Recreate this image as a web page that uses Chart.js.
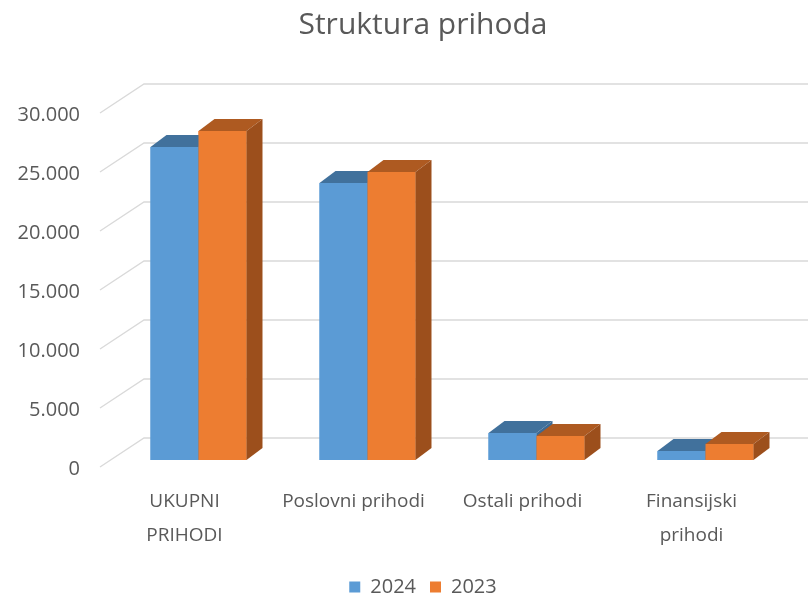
<!DOCTYPE html>
<html>
<head>
<meta charset="utf-8">
<script src="https://cdn.jsdelivr.net/npm/chart.js@4/dist/chart.umd.min.js"></script>
<style>
    html, body { margin: 0; padding: 0; background: #ffffff; }
    #wrap { width: 808px; height: 601px; }
</style>
</head>
<body>
<div id="wrap"><canvas id="myChart"></canvas></div>
<script>
const categories = [['UKUPNI', 'PRIHODI'], 'Poslovni prihodi', 'Ostali prihodi', ['Finansijski', 'prihodi']];
const seriesNames = ['2024', '2023'];
const values2024 = [26530, 23470, 2290, 760];
const values2023 = [27880, 24400, 2030, 1360];
const yTicks = [0, 5000, 10000, 15000, 20000, 25000, 30000];

const textColor = '#595959';
const fontFamily = '"Open Sans", "Noto Sans", sans-serif';

// front / top / side colours of the 3D bars
const frontColors = ['#5b9bd5', '#ed7d31'];
const topColors = ['#41719c', '#ae5a21'];
const sideColors = ['#3c6a94', '#9c4f1c'];
const depthX = 16;
const depthY = -12;

const formatNumber = v => v.toString().replace(/\B(?=(\d{3})+(?!\d))/g, '.');

const fillPoly = (ctx, pts, color) => {
    ctx.beginPath();
    ctx.moveTo(pts[0][0], pts[0][1]);
    for (let k = 1; k < pts.length; k++) ctx.lineTo(pts[k][0], pts[k][1]);
    ctx.closePath();
    ctx.fillStyle = color;
    ctx.fill();
};

// back wall grid lines, drawn with a little perspective
const wallGrid = {
    id: 'wallGrid',
    beforeDatasetsDraw(chart) {
        const ctx = chart.ctx;
        const yScale = chart.scales.y;
        const left = chart.chartArea.left;
        ctx.save();
        ctx.strokeStyle = '#d9d9d9';
        ctx.lineWidth = 1.3;
        yTicks.forEach(v => {
            const y = yScale.getPixelForValue(v);
            ctx.beginPath();
            ctx.moveTo(left - 14, y + 7);
            ctx.lineTo(left + 30, y - 22);
            ctx.lineTo(chart.width, y - 22);
            ctx.stroke();
        });
        ctx.restore();
    }
};

// top and side faces of the bars (fronts redrawn so the overlap is right)
const bar3d = {
    id: 'bar3d',
    afterDatasetsDraw(chart) {
        const ctx = chart.ctx;
        const metas = [chart.getDatasetMeta(0), chart.getDatasetMeta(1)];
        ctx.save();
        for (let i = 0; i < categories.length; i++) {
            metas.forEach((meta, d) => {
                const bar = meta.data[i];
                const p = bar.getProps(['x', 'y', 'base', 'width'], true);
                const l = p.x - p.width / 2;
                const r = p.x + p.width / 2;
                fillPoly(ctx, [[l, p.y], [r, p.y], [r, p.base], [l, p.base]], frontColors[d]);
                fillPoly(ctx, [[l, p.y], [r, p.y], [r + depthX, p.y + depthY], [l + depthX, p.y + depthY]], topColors[d]);
                fillPoly(ctx, [[r, p.y], [r + depthX, p.y + depthY], [r + depthX, p.base + depthY], [r, p.base]], sideColors[d]);
            });
        }
        ctx.restore();
    }
};

const ctx = document.getElementById('myChart');
new Chart(ctx, {
    type: 'bar',
    data: {
        labels: categories,
        datasets: [{
            label: seriesNames[0],
            data: values2024,
            backgroundColor: frontColors[0],
            borderWidth: 0
        }, {
            label: seriesNames[1],
            data: values2023,
            backgroundColor: frontColors[1],
            borderWidth: 0
        }]
    },
    options: {
        responsive: true,
        maintainAspectRatio: false,
        animation: false,
        categoryPercentage: 0.568,
        barPercentage: 1,
        layout: {
            // negative right padding + empty right axis moves title and legend to the right
            padding: { left: 0, right: -38, top: 0, bottom: -6 }
        },
        plugins: {
            title: {
                display: true,
                text: 'Struktura prihoda',
                color: textColor,
                font: { family: fontFamily, size: 30, weight: 'normal' },
                padding: { top: 7, bottom: 63 }
            },
            legend: {
                display: true,
                position: 'bottom',
                labels: {
                    color: textColor,
                    boxWidth: 11,
                    boxHeight: 11,
                    padding: 14,
                    font: { family: fontFamily, size: 20 }
                }
            },
            tooltip: { enabled: false }
        },
        scales: {
            x: {
                grid: { display: false, drawTicks: false },
                border: { display: false },
                afterFit: scale => { scale.height = 103; },
                ticks: {
                    color: textColor,
                    padding: 25,
                    labelOffset: -14,
                    maxRotation: 0,
                    autoSkip: false,
                    font: { family: fontFamily, size: 19, lineHeight: 1.78 }
                }
            },
            y: {
                min: 0,
                max: 30000,
                grid: { display: false, drawTicks: false },
                border: { display: false },
                afterFit: scale => { scale.width = 114; },
                ticks: {
                    stepSize: 5000,
                    color: textColor,
                    padding: 34,
                    labelOffset: 9,
                    font: { family: fontFamily, size: 20 },
                    callback: v => formatNumber(v)
                }
            },
            yRight: {
                position: 'right',
                grid: { display: false, drawTicks: false },
                border: { display: false },
                ticks: { display: false },
                afterFit: scale => { scale.width = 56; }
            }
        }
    },
    plugins: [wallGrid, bar3d]
});
</script>
</body>
</html>
